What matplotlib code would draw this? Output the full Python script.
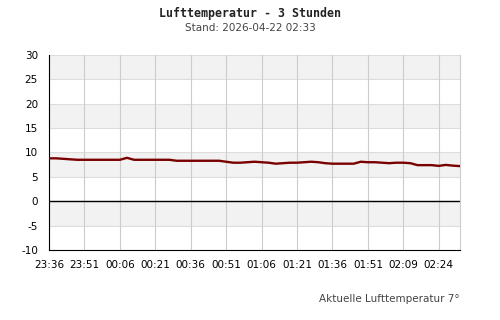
import matplotlib.pyplot as plt
import numpy as np

plt.rcParams['axes.unicode_minus'] = False

# Data: one reading per ~3 minutes
temps = [8.8, 8.8, 8.7, 8.6, 8.5, 8.5, 8.5, 8.5, 8.5, 8.5, 8.5,
         8.9, 8.5, 8.5, 8.5, 8.5, 8.5, 8.5,
         8.3, 8.3, 8.3, 8.3, 8.3, 8.3, 8.3,
         8.1, 7.9, 7.9, 8.0, 8.1, 8.0, 7.9, 7.7, 7.8, 7.9, 7.9, 8.0, 8.1, 8.0,
         7.8, 7.7, 7.7, 7.7, 7.7, 8.1, 8.0, 8.0, 7.9, 7.8, 7.9, 7.9, 7.8,
         7.4, 7.4, 7.4, 7.25, 7.45, 7.3, 7.2]
time_labels = ['23:36', '23:51', '00:06', '00:21', '00:36', '00:51',
               '01:06', '01:21', '01:36', '01:51', '02:09', '02:24']
label_step = 5
y_ticks = [-10, -5, 0, 5, 10, 15, 20, 25, 30]

fig = plt.figure(figsize=(5, 3.2), dpi=100)
ax = fig.add_axes([0.098, 0.219, 0.822, 0.609])

x = np.arange(len(temps))

# alternating background bands
for i, lo in enumerate(range(25, -15, -5)):
    if i % 2 == 0:
        ax.axhspan(lo, lo + 5, color='#f2f2f2', zorder=0, lw=0)

for yv in y_ticks:
    ax.axhline(yv, color='#dddddd', lw=0.8, zorder=1)
for i in range(len(time_labels)):
    ax.axvline(i * label_step, color='#cccccc', lw=0.8, zorder=1)
ax.axhline(0, color='black', lw=1, zorder=2)

ax.plot(x, temps, color='#7a0000', lw=1.7, zorder=3)

ax.set_xlim(0, len(temps) - 1)
ax.set_ylim(-10, 30)
ax.set_yticks(y_ticks)
ax.set_xticks(np.arange(len(time_labels)) * label_step)
ax.set_xticklabels(time_labels)
ax.tick_params(length=0, labelsize=7.5, colors='black')
ax.tick_params(axis='x', pad=7)
ax.tick_params(axis='y', pad=8)

ax.spines['left'].set_color('black')
ax.spines['bottom'].set_color('black')
ax.spines['top'].set_visible(False)
ax.spines['right'].set_color('#cccccc')
ax.spines['right'].set_linewidth(0.8)

fig.text(0.5, 1 - 13 / 320, 'Lufttemperatur - 3 Stunden', ha='center', va='center',
         family='DejaVu Sans Mono', weight='bold', fontsize=8.4, color='#222222')
fig.text(0.5, 1 - 28 / 320, 'Stand: 2026-04-22 02:33', ha='center', va='center',
         fontsize=7.5, color='#444444')
fig.text(0.92, 1 - 299 / 320, 'Aktuelle Lufttemperatur 7°', ha='right', va='center',
         fontsize=7.5, color='#444444')

fig.savefig('out.png', dpi=100)
